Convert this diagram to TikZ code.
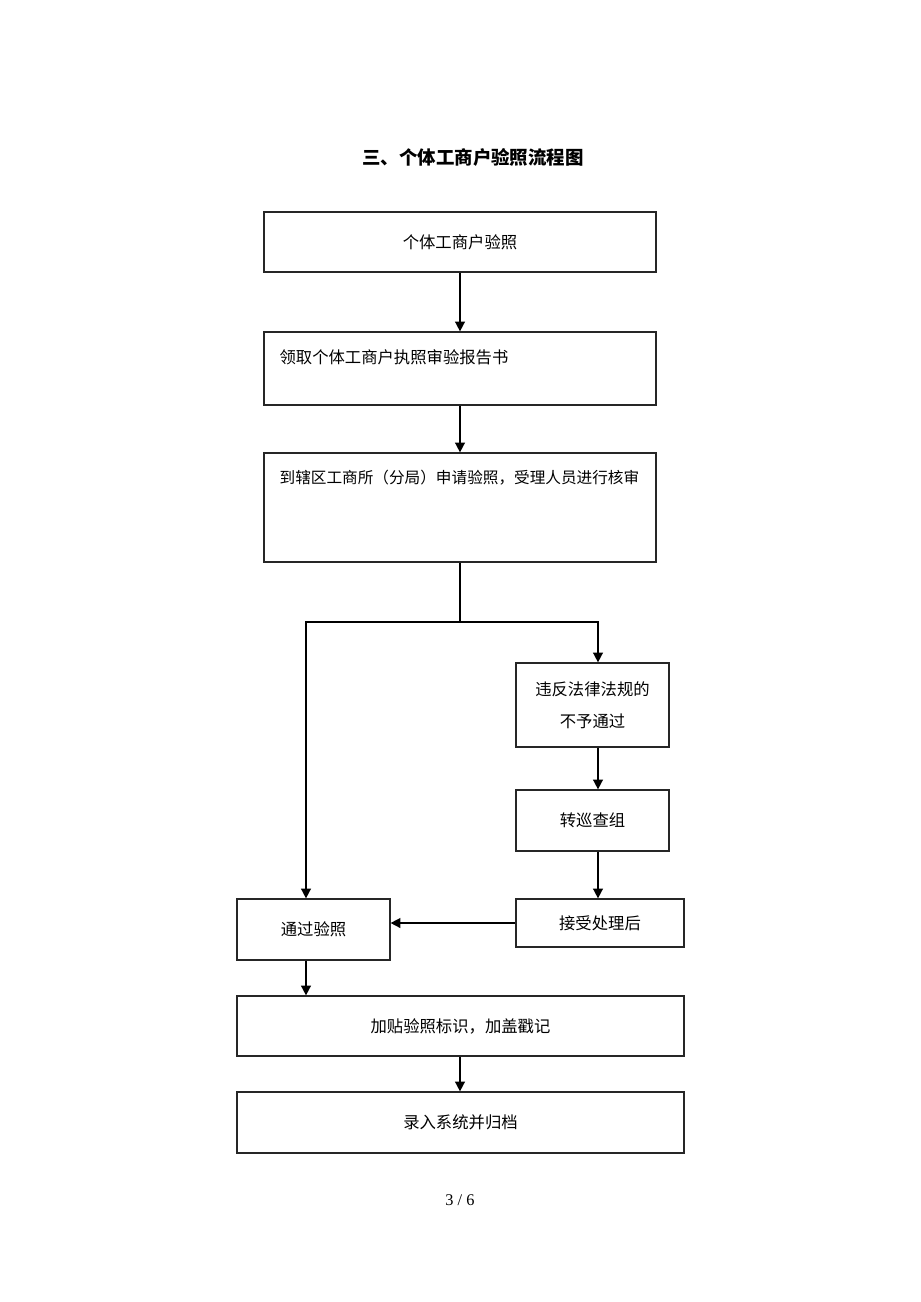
\documentclass[tikz,border=0pt]{standalone}
\usepackage{fontspec}
\newfontfamily\cjk{Noto Sans CJK SC}
\setmainfont{Liberation Serif}
\usetikzlibrary{arrows.meta}
\begin{document}
\begin{tikzpicture}[x=0.02cm,y=-0.02cm,
  box/.style={draw=black!85,line width=0.7pt,inner sep=0pt,font=\cjk\fontsize{9.3}{18}\selectfont},
  arr/.style={line width=0.9pt,-{Triangle[width=5.6pt,length=5.6pt]}}]
\useasboundingbox (0,0) rectangle (920,1302);
\node[font=\cjk\bfseries\fontsize{10.5}{12}\selectfont] (title) at (473,157) {三、个体工商户验照流程图};
\node[box,minimum width=7.84cm,minimum height=1.2cm] (b1) at (460,242) {个体工商户验照};
\node[box,minimum width=7.84cm,minimum height=1.46cm] (b2) at (460,368.5) {};
\node[box,anchor=west,draw=none] (t2) at (279,357) {领取个体工商户执照审验报告书};
\node[box,minimum width=7.84cm,minimum height=2.18cm] (b3) at (460,507.5) {};
\node[box,anchor=west,draw=none,font=\cjk\fontsize{8.9}{12}\selectfont] (t3) at (279,478) {到辖区工商所（分局）申请验照，受理人员进行核审};
\node[box,minimum width=3.06cm,minimum height=1.68cm,align=center] (b4) at (592.5,705) {违反法律法规的\\不予通过};
\node[box,minimum width=3.06cm,minimum height=1.22cm] (b5) at (592.5,820.5) {转巡查组};
\node[box,minimum width=3.36cm,minimum height=0.96cm] (b6) at (600,923) {接受处理后};
\node[box,minimum width=3.06cm,minimum height=1.22cm] (b7) at (313.5,929.5) {通过验照};
\node[box,minimum width=8.94cm,minimum height=1.2cm] (b8) at (460.5,1026) {加贴验照标识，加盖戳记};
\node[box,minimum width=8.94cm,minimum height=1.22cm] (b9) at (460.5,1122.5) {录入系统并归档};
\node[font=\fontsize{9.3}{11}\selectfont] (pg) at (460,1200) {3 / 6};
\coordinate (split) at (460,622);
\coordinate (lt) at (306,622);
\coordinate (rt) at (598,622);
\draw[arr] (b1.south) -- (b2.north);
\draw[arr] (b2.south) -- (b3.north);
\draw[line width=0.9pt] (b3.south) -- (split);
\draw[arr] (split) -- (lt) -- (lt |- b7.north);
\draw[arr] (split) -- (rt) -- (rt |- b4.north);
\draw[arr] (rt |- b4.south) -- (rt |- b5.north);
\draw[arr] (rt |- b5.south) -- (rt |- b6.north);
\draw[arr] (b6.west) -- (b6.west -| b7.east);
\draw[arr] (lt |- b7.south) -- (lt |- b8.north);
\draw[arr] (split |- b8.south) -- (split |- b9.north);
\end{tikzpicture}
\end{document}
